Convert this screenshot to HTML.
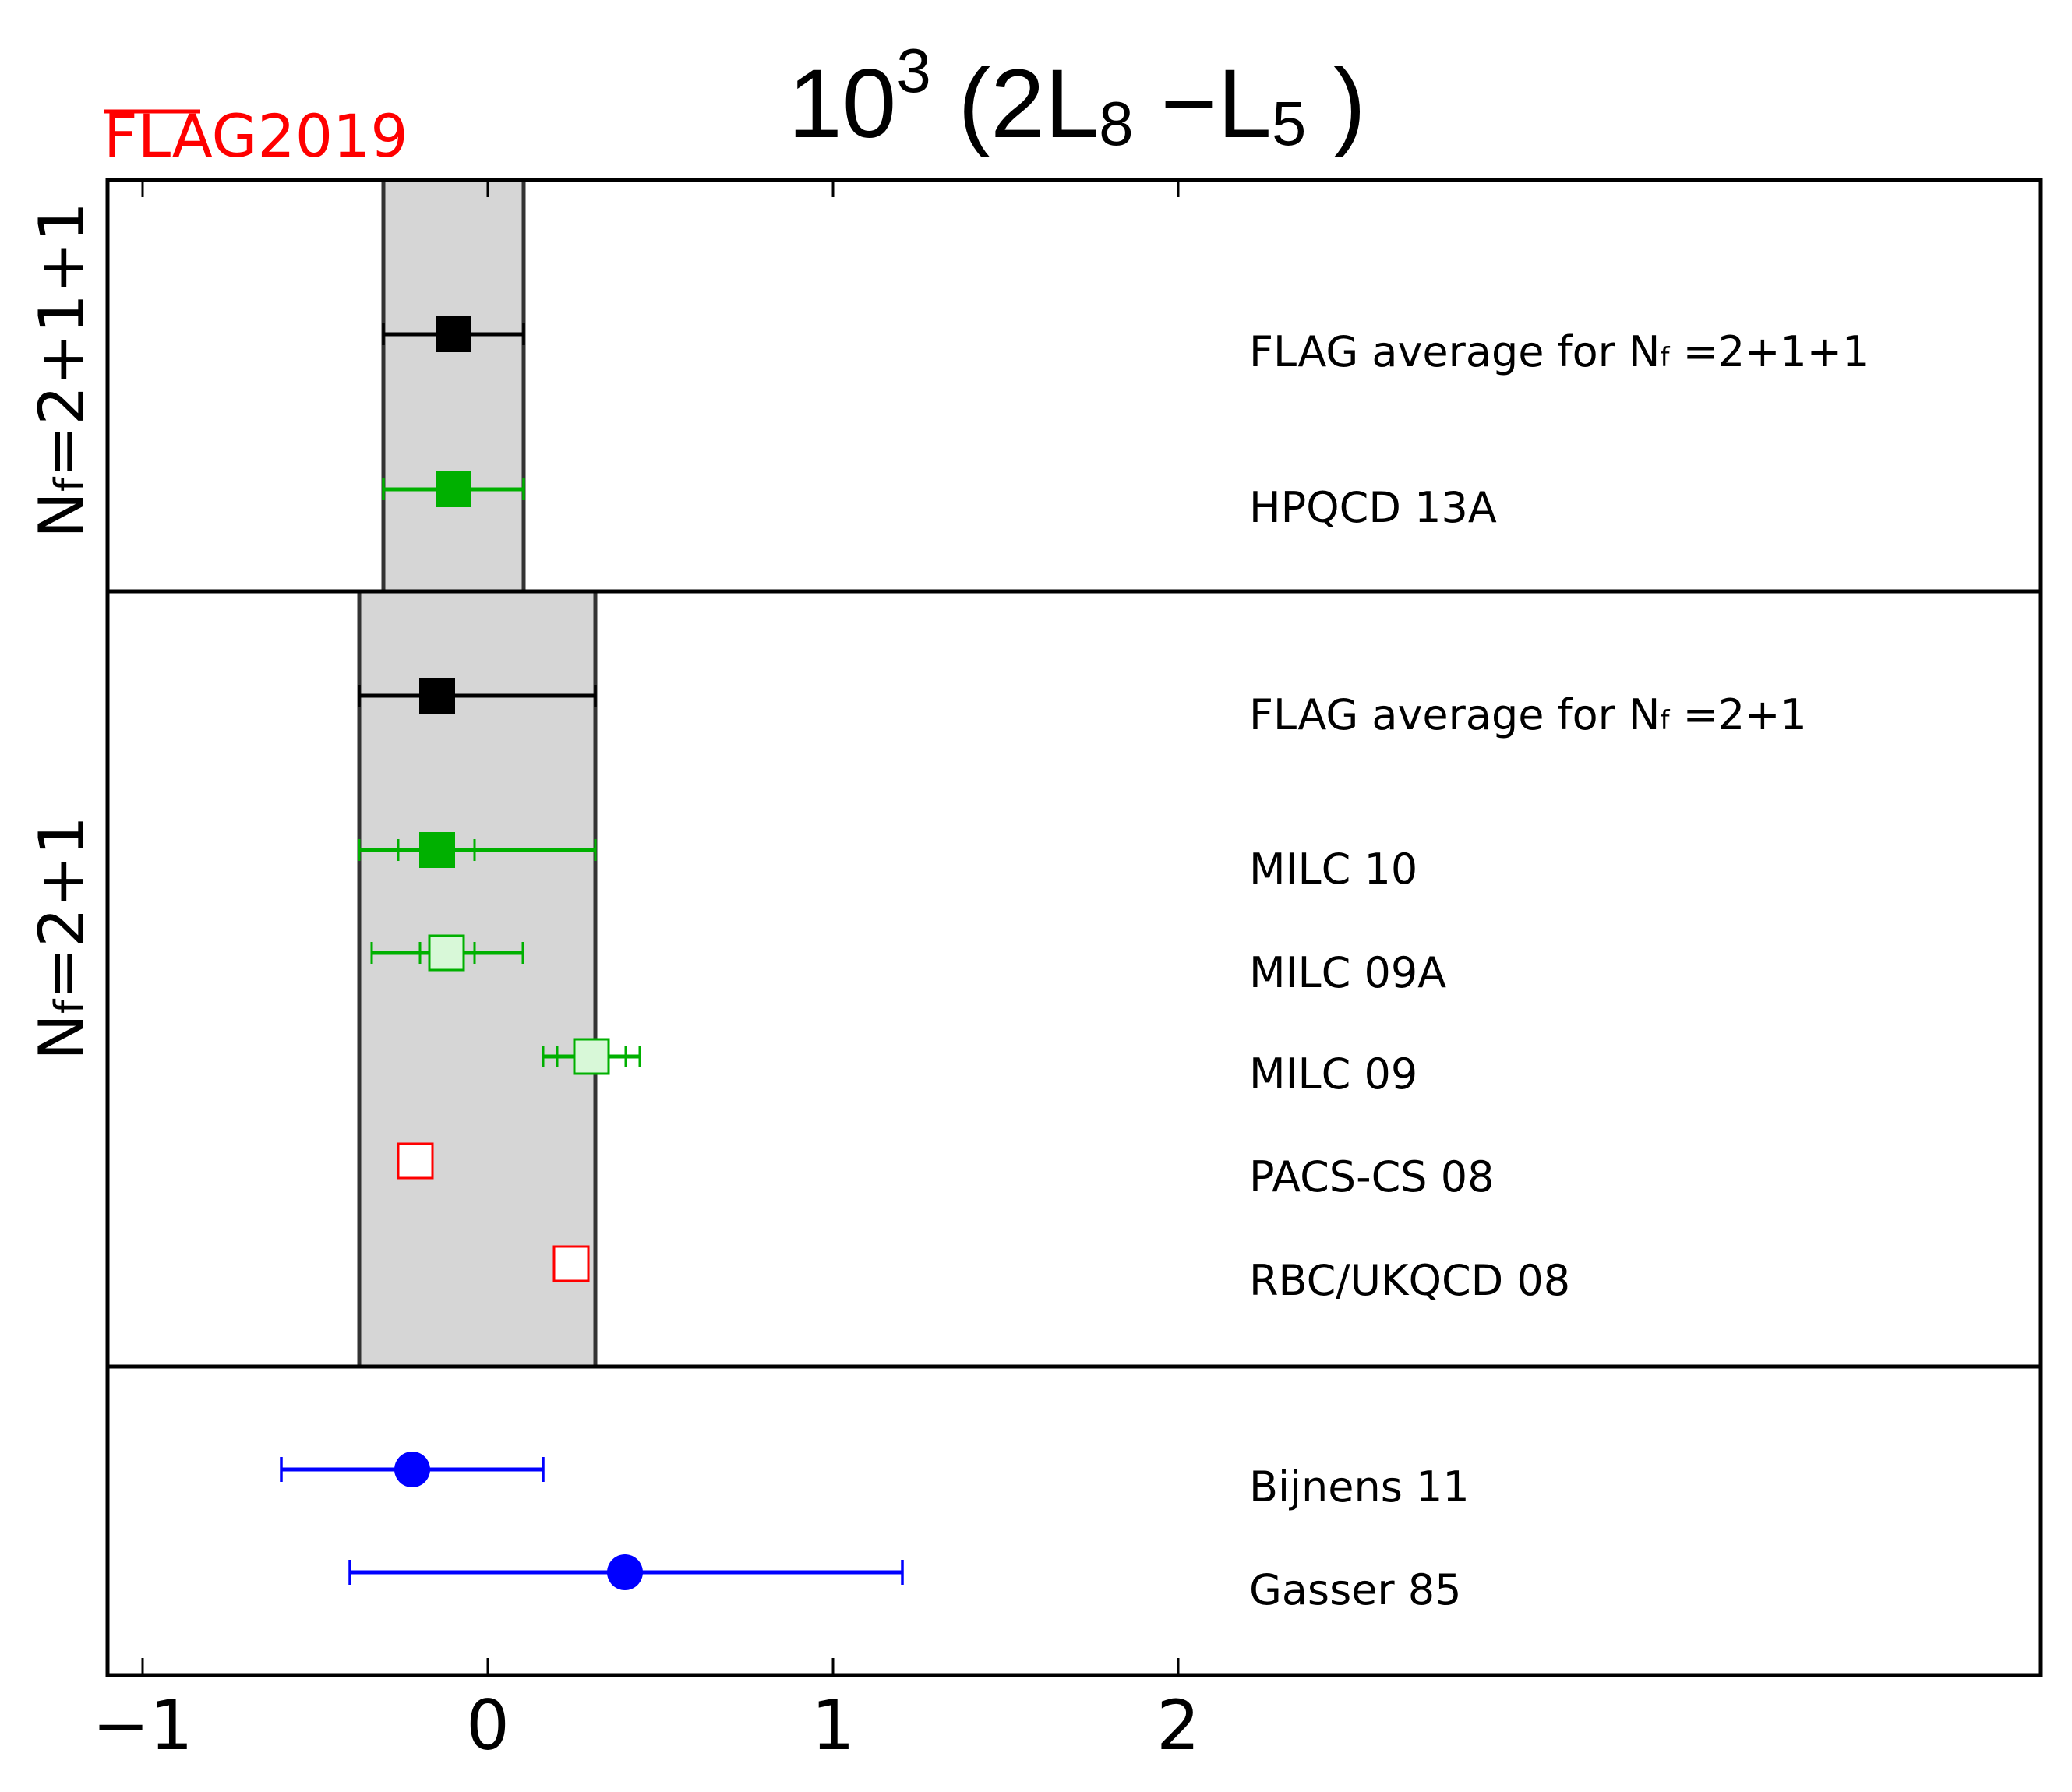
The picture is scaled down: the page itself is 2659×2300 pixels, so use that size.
<!DOCTYPE html>
<html><head><meta charset="utf-8"><style>html,body{margin:0;padding:0;background:#fff}svg{display:block}</style></head>
<body>
<svg width="2659" height="2300" viewBox="0 0 2659 2300" xmlns="http://www.w3.org/2000/svg" font-family="'DejaVu Sans', 'Liberation Sans', sans-serif">
<rect width="2659" height="2300" fill="#fff"/>
<rect x="492" y="231" width="180" height="528" fill="#d6d6d6" stroke="#333" stroke-width="5"/>
<rect x="461" y="759" width="303" height="995" fill="#d6d6d6" stroke="#333" stroke-width="5"/>
<rect x="138" y="231" width="2481" height="1919" fill="none" stroke="#000" stroke-width="5"/>
<line x1="138" y1="759" x2="2619" y2="759" stroke="#000" stroke-width="5"/>
<line x1="138" y1="1754" x2="2619" y2="1754" stroke="#000" stroke-width="5"/>
<g stroke="#000" stroke-width="3">
<line x1="183" y1="231" x2="183" y2="253"/><line x1="626" y1="231" x2="626" y2="253"/><line x1="1069" y1="231" x2="1069" y2="253"/><line x1="1512" y1="231" x2="1512" y2="253"/>
<line x1="183" y1="2150" x2="183" y2="2128"/><line x1="626" y1="2150" x2="626" y2="2128"/><line x1="1069" y1="2150" x2="1069" y2="2128"/><line x1="1512" y1="2150" x2="1512" y2="2128"/>
</g>
<g font-size="88" text-anchor="middle" fill="#000">
<text x="183" y="2245">−1</text><text x="626" y="2245">0</text><text x="1069" y="2245">1</text><text x="1512" y="2245">2</text>
</g>
<text x="1382" y="176" font-family="'Liberation Sans', sans-serif" font-size="125" text-anchor="middle" fill="#000">10<tspan dy="-58" font-size="80">3</tspan><tspan dy="58"> (2L</tspan><tspan font-size="80" dy="10">8</tspan><tspan dy="-10"> −L</tspan><tspan font-size="80" dy="10">5</tspan><tspan dy="-10"> )</tspan></text>
<text x="133" y="201" font-family="'DejaVu Sans', sans-serif" font-size="76" fill="#f00">FLAG2019</text>
<line x1="133" y1="143" x2="257" y2="143" stroke="#f00" stroke-width="5"/>
<text transform="translate(107,475) rotate(-90)" font-size="80" text-anchor="middle" fill="#000">N<tspan font-size="52">f</tspan>=2+1+1</text>
<text transform="translate(107,1204) rotate(-90)" font-size="80" text-anchor="middle" fill="#000">N<tspan font-size="52">f</tspan>=2+1</text>
<g stroke-width="5">
<line x1="492" y1="429" x2="672" y2="429" stroke="#000"/><line x1="492" y1="415" x2="492" y2="443" stroke="#000" stroke-width="3.5"/><line x1="672" y1="415" x2="672" y2="443" stroke="#000" stroke-width="3.5"/>
<rect x="559" y="406" width="46" height="46" fill="#000"/>
<line x1="492" y1="628" x2="672" y2="628" stroke="#00b000"/><line x1="492" y1="614" x2="492" y2="642" stroke="#00b000" stroke-width="3.5"/><line x1="672" y1="614" x2="672" y2="642" stroke="#00b000" stroke-width="3.5"/>
<rect x="559" y="605" width="46" height="46" fill="#00b000"/>
<line x1="461" y1="893" x2="764" y2="893" stroke="#000"/><line x1="461" y1="879" x2="461" y2="907" stroke="#000" stroke-width="3.5"/><line x1="764" y1="879" x2="764" y2="907" stroke="#000" stroke-width="3.5"/>
<rect x="538" y="870" width="46" height="46" fill="#000"/>
<line x1="461" y1="1091" x2="764" y2="1091" stroke="#00b000"/>
<g stroke="#00b000" stroke-width="3"><line x1="461" y1="1077" x2="461" y2="1105"/><line x1="764" y1="1077" x2="764" y2="1105"/><line x1="511" y1="1077" x2="511" y2="1105"/><line x1="609" y1="1077" x2="609" y2="1105"/></g>
<rect x="538" y="1068" width="46" height="46" fill="#00b000"/>
<line x1="477" y1="1223" x2="671" y2="1223" stroke="#00b000"/>
<g stroke="#00b000" stroke-width="3"><line x1="477" y1="1209" x2="477" y2="1237"/><line x1="671" y1="1209" x2="671" y2="1237"/><line x1="539" y1="1209" x2="539" y2="1237"/><line x1="609" y1="1209" x2="609" y2="1237"/></g>
<rect x="551" y="1201" width="44" height="44" fill="#d8f8d8" stroke="#00b000" stroke-width="3"/>
<line x1="697" y1="1356" x2="821" y2="1356" stroke="#00b000"/>
<g stroke="#00b000" stroke-width="3"><line x1="697" y1="1342" x2="697" y2="1370"/><line x1="821" y1="1342" x2="821" y2="1370"/><line x1="715" y1="1342" x2="715" y2="1370"/><line x1="803" y1="1342" x2="803" y2="1370"/></g>
<rect x="737" y="1334" width="44" height="44" fill="#d8f8d8" stroke="#00b000" stroke-width="3"/>
<rect x="511" y="1468" width="44" height="44" fill="#fff" stroke="#f00" stroke-width="3"/>
<rect x="711" y="1600" width="44" height="44" fill="#fff" stroke="#f00" stroke-width="3"/>
<line x1="361" y1="1886" x2="697" y2="1886" stroke="#00f"/><line x1="361" y1="1870" x2="361" y2="1902" stroke="#00f" stroke-width="3.5"/><line x1="697" y1="1870" x2="697" y2="1902" stroke="#00f" stroke-width="3.5"/>
<ellipse cx="529" cy="1886" rx="23" ry="23" fill="#00f"/>
<line x1="449" y1="2018" x2="1158" y2="2018" stroke="#00f"/><line x1="449" y1="2002" x2="449" y2="2034" stroke="#00f" stroke-width="3.5"/><line x1="1158" y1="2002" x2="1158" y2="2034" stroke="#00f" stroke-width="3.5"/>
<ellipse cx="802" cy="2018" rx="23" ry="23" fill="#00f"/>
</g>
<g font-size="54" fill="#000">
<text x="1603" y="470">FLAG average for N<tspan font-size="34">f</tspan> =2+1+1</text>
<text x="1603" y="670">HPQCD 13A</text>
<text x="1603" y="936">FLAG average for N<tspan font-size="34">f</tspan> =2+1</text>
<text x="1603" y="1134">MILC 10</text>
<text x="1603" y="1267">MILC 09A</text>
<text x="1603" y="1397">MILC 09</text>
<text x="1603" y="1529">PACS-CS 08</text>
<text x="1603" y="1662">RBC/UKQCD 08</text>
<text x="1603" y="1927">Bijnens 11</text>
<text x="1603" y="2059">Gasser 85</text>
</g>
</svg>
</body></html>
